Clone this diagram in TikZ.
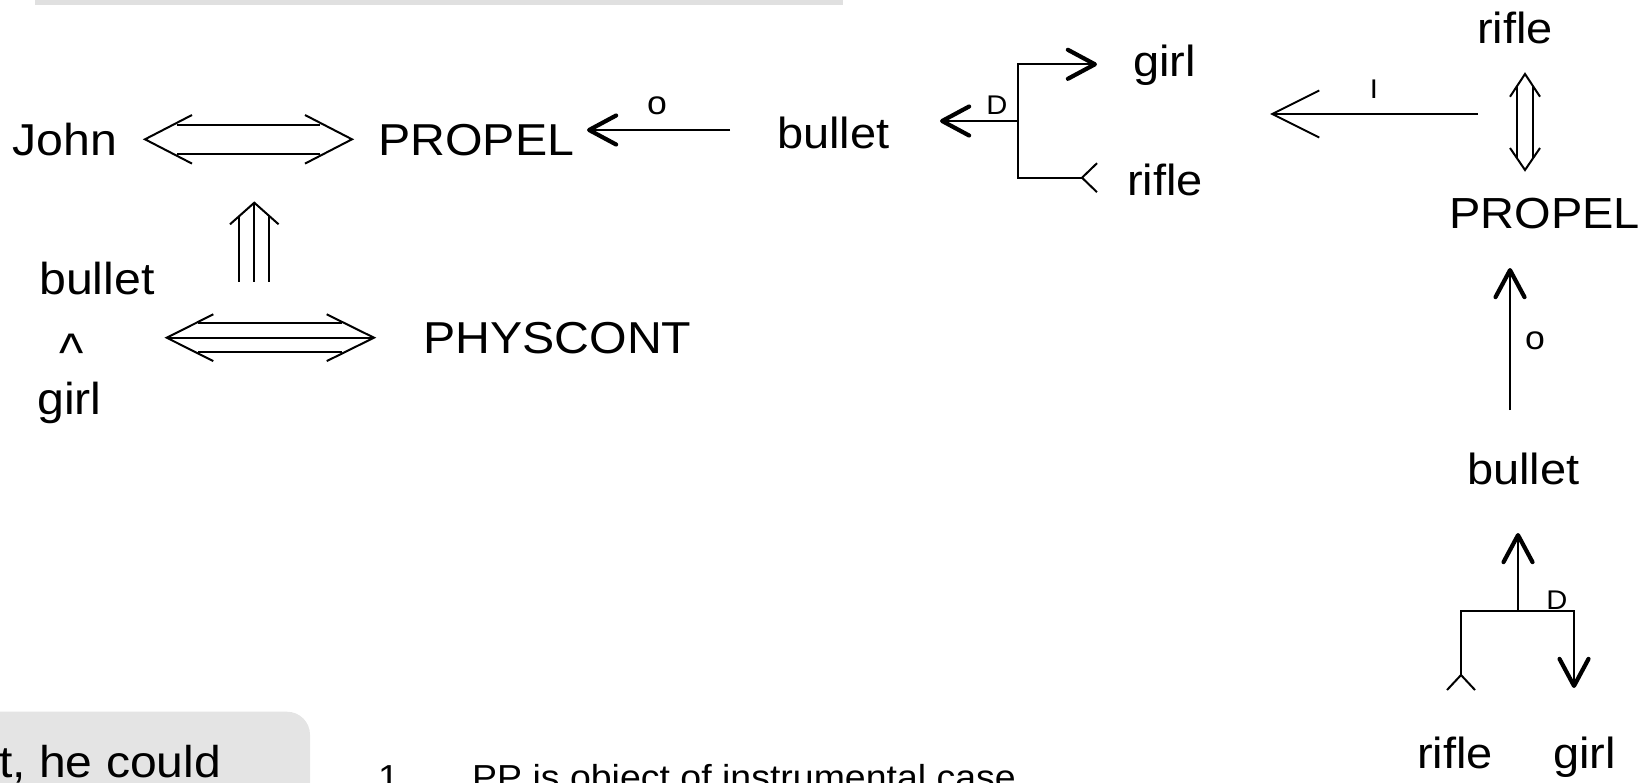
\documentclass[tikz,border=0pt]{standalone}
\usepackage{fontspec}
\setmainfont{Liberation Sans}[FakeStretch=1.08]
\usetikzlibrary{arrows.meta}
\definecolor{bargray}{RGB}{224,224,224}
\definecolor{boxgray}{RGB}{228,228,228}
\tikzset{
  word/.style={font=\fontsize{43.5}{50}\selectfont, inner sep=0pt, anchor=base west},
  bigword/.style={word, font=\fontsize{44.7}{50}\selectfont},
  tag/.style={font=\fontsize{27}{30}\selectfont, inner sep=0pt},
  ring/.style={font=\fontsize{33}{36}\selectfont, inner sep=0pt},
  link/.style={line width=2pt},
  boldtip/.style={-{Straight Barb[length=27pt,width=29pt,line width=4.2pt,round]}},
  opentip/.style={-{Straight Barb[length=47pt,width=47pt,line width=2pt]}},
}
\begin{document}
\begin{tikzpicture}[x=1pt,y=-1pt]
    \useasboundingbox (0,0) rectangle (1648,782);
    \clip (0,0) rectangle (1648,782);
    % cut-off slide parts
    \fill[bargray] (35,-5) rectangle (843,4.5);
    \fill[boxgray, rounded corners=23pt] (-60,711.7) rectangle (310,900);
    \node[font=\fontsize{44.5}{50}\selectfont, inner sep=0pt, anchor=base west] (boxtext) at (-1,777) {t, he could};
    \node[font=\fontsize{34.7}{40}\selectfont, inner sep=0pt, anchor=base west] (num) at (378,789) {1};
    \node[font=\fontsize{34.7}{40}\selectfont, inner sep=0pt, anchor=base west] (note) at (472,789) {PP is object of instrumental case};

    % left graph
    \node[bigword] (john) at (12,155) {John};
    \node[bigword] (propelA) at (378,155) {PROPEL};
    \node[bigword] (bulletL) at (39,294) {bullet};
    \node[word] (andL) at (59,371) {\scalebox{1.1}[1.25]{\textasciicircum}};
    \node[bigword] (girlL) at (37,414) {girl};
    \node[bigword] (physcont) at (423,353) {PHYSCONT};

    \coordinate (jpL) at (145,139.3);
    \coordinate (jpR) at (352,139.3);
    \draw[link] (jpL) ++(47,-24.3) -- (jpL) -- ++(47,24.3);
    \draw[link] (jpR) ++(-47,-24.3) -- (jpR) -- ++(-47,24.3);
    \draw[link] (jpL) ++(32,-14.3) -- ++(143,0) (jpL) ++(32,14.2) -- ++(143,0);

    \coordinate (upT) at (254.3,202.7);
    \draw[link] (upT) ++(-24.3,21.6) -- (upT) -- ++(24.3,21.6);
    \draw[link] (upT) -- ++(0,79) (upT) ++(-15,13.3) -- ++(0,65.7) (upT) ++(15,13.3) -- ++(0,65.7);

    \coordinate (pcL) at (166.7,337.7);
    \coordinate (pcR) at (374,337.7);
    \draw[link] (pcL) ++(46.6,-23.4) -- (pcL) -- ++(46.6,23.4);
    \draw[link] (pcR) ++(-47.3,-23.4) -- (pcR) -- ++(-47.3,23.4);
    \draw[link] (pcL) -- (pcR);
    \draw[link] (pcL) ++(31.3,-14.5) -- ++(143.7,0) (pcL) ++(31.3,14.5) -- ++(143.7,0);

    % middle graph
    \node[word] (bulletA) at (777,148) {bullet};
    \node[word] (girlA) at (1133,76) {girl};
    \node[word] (rifleA) at (1127,195) {rifle};
    \node[ring] (oA) at (657,106) {o};
    \node[tag, anchor=south] (dA) at (997,115) {D};

    \coordinate (paS) at (730,130);
    \coordinate (paE) at (587,130);
    \draw[link, boldtip] (paS) -- (paE);

    \coordinate (jn) at (1017.7,121);
    \coordinate (jnT) at (1017.7,64.3);
    \coordinate (jnB) at (1017.7,177.7);
    \coordinate (girlTip) at (1097,64.3);
    \coordinate (rifleEnd) at (1082,177.7);
    \coordinate (bulletTip) at (940,121);
    \draw[link, boldtip] (jn) -- (bulletTip);
    \draw[link, boldtip] (rifleEnd) -- (jnB) -- (jnT) -- (girlTip);
    \draw[link] (rifleEnd) -- ++(15,-14.5) (rifleEnd) -- ++(15,14.5);

    % right graph
    \node[word] (rifleB) at (1477,43) {rifle};
    \node[word] (propelB) at (1449,228) {PROPEL};
    \node[word] (bulletB) at (1467,484) {bullet};
    \node[word] (rifleC) at (1417,768) {rifle};
    \node[word] (girlC) at (1553,768) {girl};
    \node[tag, anchor=south] (iB) at (1374,99) {I};
    \node[ring] (oB) at (1535,341) {o};
    \node[tag, anchor=south] (dB) at (1557,610) {D};

    \coordinate (iaS) at (1478,114);
    \coordinate (iaE) at (1270,114);
    \draw[link, opentip] (iaS) -- (iaE);

    \coordinate (rpT) at (1525,74);
    \coordinate (rpB) at (1525,170);
    \draw[link] (rpT) ++(-15,22.7) -- (rpT) -- ++(15,22.7);
    \draw[link] (rpB) ++(-15,-22) -- (rpB) -- ++(15,-22);
    \draw[link] (rpT) ++(-8,12) -- ++(0,72) (rpT) ++(8,12) -- ++(0,72);

    \coordinate (uaS) at (1510,410);
    \coordinate (uaE) at (1510,268);
    \draw[link, boldtip] (uaS) -- (uaE);

    \coordinate (bjL) at (1461,610.7);
    \coordinate (bjR) at (1574,610.7);
    \coordinate (bjM) at (1518,610.7);
    \coordinate (bjUp) at (1518,533);
    \coordinate (bjLend) at (1461,675);
    \coordinate (bjRend) at (1574,688);
    \draw[link, boldtip] (bjM) -- (bjUp);
    \draw[link, boldtip] (bjLend) -- (bjL) -- (bjR) -- (bjRend);
    \draw[link] (bjLend) -- ++(-14,15) (bjLend) -- ++(14,15);
\end{tikzpicture}
\end{document}
